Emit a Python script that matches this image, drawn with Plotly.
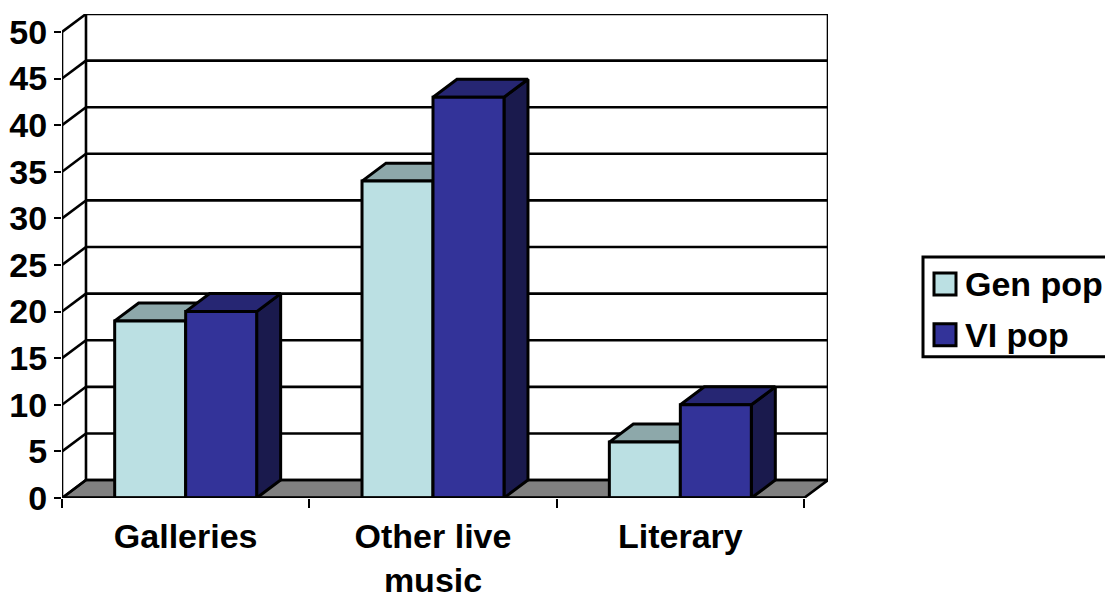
import plotly.graph_objects as go

# Chart data
categories = ["Galleries", "Other live<br>music", "Literary"]
gen_pop = [19, 34, 6]
vi_pop = [20, 43, 10]
value_ticks = [0, 5, 10, 15, 20, 25, 30, 35, 40, 45, 50]
series_names = ["Gen pop", "VI pop"]

# Oblique projection offsets, in axis units
DEPTH_X = 0.097
DEPTH_Y = 1.927
BAR_WIDTH = 0.287
Y_MAX = 50

FONT = dict(family="Liberation Sans", size=34, color="#000000", weight=700)
EDGE = dict(color="#000000", width=3)
STYLES = [
    dict(front="#BBE0E3", top="#8DA8AA", side="#5E7072"),
    dict(front="#333399", top="#262673", side="#1A1A4D"),
]

PLOT_L, PLOT_R, PLOT_T, PLOT_B = 62, 828, 13.5, 498.5
WIDTH, HEIGHT = 1105, 593


def paper_x(px):
    return (px - PLOT_L) / (PLOT_R - PLOT_L)


def paper_y(py):
    return (PLOT_B - py) / (PLOT_B - PLOT_T)


def polygon(xs, ys, fill, line=EDGE):
    return go.Scatter(
        x=xs + xs[:1], y=ys + ys[:1], mode="lines", fill="toself",
        fillcolor=fill, line=line, hoverinfo="skip", showlegend=False,
        cliponaxis=False,
    )


def segments(pairs, width):
    xs, ys = [], []
    for (x0, y0), (x1, y1) in pairs:
        xs += [x0, x1, None]
        ys += [y0, y1, None]
    return go.Scatter(
        x=xs, y=ys, mode="lines", line=dict(color="#000000", width=width),
        hoverinfo="skip", showlegend=False, cliponaxis=False,
    )


n = len(categories)
fig = go.Figure()

# Floor of the box
fig.add_trace(polygon([0, DEPTH_X, n + DEPTH_X, n],
                      [0, DEPTH_Y, DEPTH_Y, 0], "#808080",
                      dict(color="#000000", width=2.6)))

# Back wall rules, side wall rules and wall edges
rules = []
for v in value_ticks:
    rules.append(((0, v), (DEPTH_X, v + DEPTH_Y)))
    rules.append(((DEPTH_X, v + DEPTH_Y), (n + DEPTH_X, v + DEPTH_Y)))
rules.append(((DEPTH_X, DEPTH_Y), (DEPTH_X, Y_MAX + DEPTH_Y)))
rules.append(((n + DEPTH_X, DEPTH_Y), (n + DEPTH_X, Y_MAX + DEPTH_Y)))
rules.append(((0, 0), (0, Y_MAX)))
fig.add_trace(segments(rules, 2.6))

# Each column: right face, top face, then front face, drawn back to front
for i in range(n):
    centre = i + 0.5
    for k, values in enumerate([gen_pop, vi_pop]):
        x0 = centre + (k - 1) * BAR_WIDTH
        x1 = x0 + BAR_WIDTH
        v = values[i]
        s = STYLES[k]
        fig.add_trace(polygon([x1, x1 + DEPTH_X, x1 + DEPTH_X, x1],
                              [0, DEPTH_Y, v + DEPTH_Y, v], s["side"]))
        fig.add_trace(polygon([x0, x0 + DEPTH_X, x1 + DEPTH_X, x1],
                              [v, v + DEPTH_Y, v + DEPTH_Y, v], s["top"]))
        fig.add_trace(polygon([x0, x1, x1, x0], [0, 0, v, v], s["front"]))

# Front edge of the floor
fig.add_trace(segments([((0, 0), (n, 0))], 3.4))

shapes = [
    dict(type="rect", xref="paper", yref="paper",
         x0=paper_x(923), x1=paper_x(1112), y0=paper_y(357), y1=paper_y(257),
         line=dict(color="#000000", width=3), fillcolor="#FFFFFF"),
]
annotations = []
for name, style, cy in zip(series_names, STYLES, [284, 335]):
    shapes.append(dict(
        type="rect", xref="paper", yref="paper",
        x0=paper_x(934), x1=paper_x(956), y0=paper_y(cy + 11), y1=paper_y(cy - 11),
        line=dict(color="#000000", width=3), fillcolor=style["front"],
    ))
    annotations.append(dict(
        text=name, xref="paper", yref="paper", x=paper_x(963), y=paper_y(cy),
        xanchor="left", yanchor="middle", showarrow=False, font=FONT,
    ))

fig.update_layout(
    width=WIDTH, height=HEIGHT, autosize=False,
    margin=dict(l=PLOT_L, r=WIDTH - PLOT_R, t=PLOT_T, b=HEIGHT - PLOT_B, pad=0),
    paper_bgcolor="#FFFFFF", plot_bgcolor="#FFFFFF",
    showlegend=False, shapes=shapes, annotations=annotations,
    xaxis=dict(
        range=[0, n + DEPTH_X], showgrid=False, zeroline=False, showline=False,
        automargin=False,
        tickmode="array", tickvals=[i + 0.5 for i in range(n)], ticktext=categories,
        ticks="outside", ticklen=8, tickcolor="rgba(0,0,0,0)", tickfont=FONT,
        minor=dict(tickmode="array", tickvals=list(range(n + 1)), ticks="outside",
                   ticklen=9, tickwidth=2.4, tickcolor="#000000", showgrid=False),
    ),
    yaxis=dict(
        range=[0, Y_MAX + DEPTH_Y], showgrid=False, zeroline=False, showline=False,
        automargin=False,
        tickmode="array", tickvals=value_ticks, ticktext=[str(v) for v in value_ticks],
        ticks="outside", ticklen=7, tickwidth=2.4, tickcolor="#000000", tickfont=FONT,
    ),
)

fig.write_html("out.html")
